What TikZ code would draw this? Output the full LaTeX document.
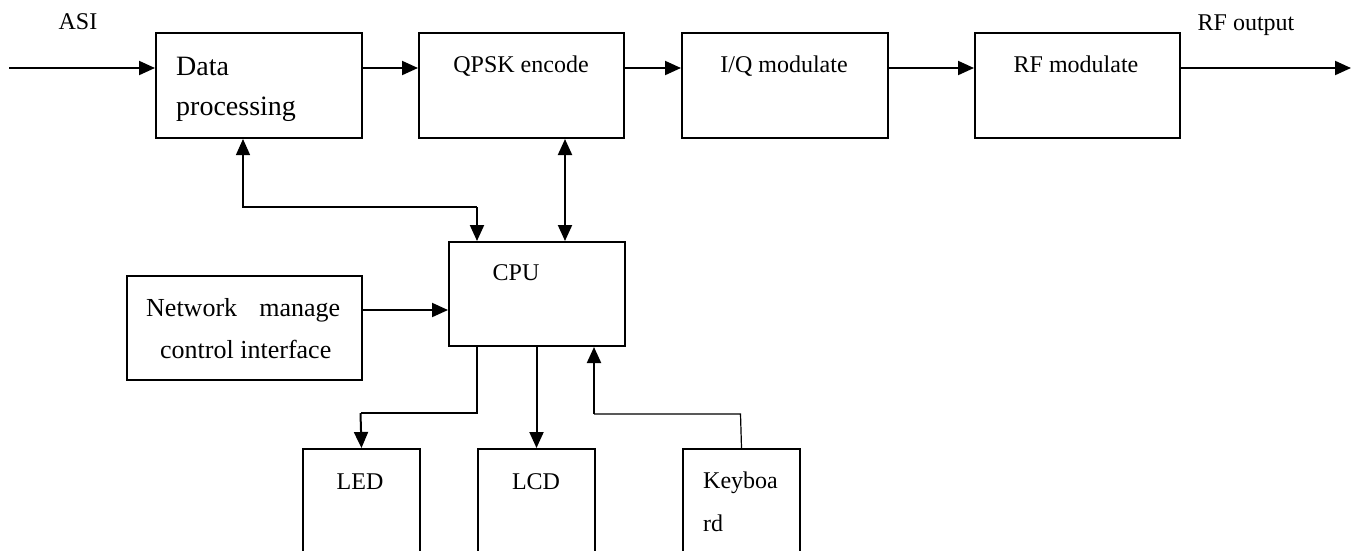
\documentclass[tikz,border=0pt]{standalone}
\usepackage{fontspec}
\setmainfont{Liberation Serif}
\usetikzlibrary{arrows.meta}
\begin{document}
\begin{tikzpicture}[x=1pt,y=-1pt,
  blk/.style={draw, line width=2pt, inner sep=0pt, anchor=north west, minimum height=105pt},
  lowblk/.style={draw, line width=2pt, inner sep=0pt, anchor=north west, minimum width=117pt, minimum height=130pt},
  tx/.style={inner sep=0pt, font=\fontsize{24}{28}\selectfont},
  arr/.style={line width=2pt, -{Triangle[length=16pt,width=14pt]}},
  darr/.style={line width=2pt, {Triangle[length=16pt,width=14pt]}-{Triangle[length=16pt,width=14pt]}},
  thinline/.style={line width=1.2pt},
  thinarr/.style={line width=1.2pt, -{Triangle[length=16pt,width=14pt]}}]
\clip (0,0) rectangle (1351,550);
\fill[white] (0,0) rectangle (1351,550);
% boxes
\node[blk, minimum width=206pt] (dp) at (155,32) {};
\node[blk, minimum width=205pt] (qpsk) at (418,32) {};
\node[blk, minimum width=206pt] (iq) at (681,32) {};
\node[blk, minimum width=205pt] (rf) at (974,32) {};
\node[blk, minimum width=176pt, minimum height=104pt] (cpu) at (448,241) {};
\node[blk, minimum width=235pt, minimum height=104pt] (net) at (126,275) {};
\node[lowblk] (led) at (302,448) {};
\node[lowblk] (lcd) at (477,448) {};
\node[lowblk] (kb) at (682,448) {};
% texts
\node[tx] (asi) at (78,22) {ASI};
\node[tx] (rfout) at (1246,25) {RF output};
\node[tx, anchor=base west, font=\fontsize{28}{32}\selectfont] (dpt1) at (176,75) {Data};
\node[tx, anchor=base west, font=\fontsize{28}{32}\selectfont] (dpt2) at (176,115) {processing};
\node[tx, anchor=base] (qpskt) at (521,72) {QPSK encode};
\node[tx, anchor=base] (iqt) at (784,72) {I/Q modulate};
\node[tx, anchor=base] (rft) at (1076,72) {RF modulate};
\node[tx, anchor=base] (cput) at (516,280) {CPU};
\node[tx, anchor=base west, font=\fontsize{26}{30}\selectfont] (nett1) at (146,316) {\hbox to 194pt{Network\hfil manage}};
\node[tx, anchor=base west, font=\fontsize{26}{30}\selectfont] (nett2) at (160,358) {control interface};
\node[tx, anchor=base] (ledt) at (360,489) {LED};
\node[tx, anchor=base] (lcdt) at (536,489) {LCD};
\node[tx, anchor=base west] (kbt1) at (703,488) {Keyboa};
\node[tx, anchor=base west] (kbt2) at (703,531) {rd};
% helper coordinates
\coordinate (in) at (9,68);
\coordinate (row) at (0,68);
\coordinate (out) at (1351,68);
\coordinate (c1) at (565,0);
\coordinate (j1) at (477,207);
\coordinate (j2) at (243,207);
\coordinate (r2) at (0,310);
\coordinate (k1) at (477,413);
\coordinate (k2) at (360.5,413);
\coordinate (m1) at (740.5,414);
\coordinate (m2) at (594,414);
% main chain
\draw[arr] (in) -- (in -| dp.west);
\draw[arr] (dp.east |- row) -- (qpsk.west |- row);
\draw[arr] (qpsk.east |- row) -- (iq.west |- row);
\draw[arr] (iq.east |- row) -- (rf.west |- row);
\draw[arr] (rf.east |- row) -- (out);
% CPU links
\draw[darr] (qpsk.south -| c1) -- (cpu.north -| c1);
\draw[thinarr] (j1) -- (j2) -- (dp.south -| j2);
\draw[arr] (j1) -- (cpu.north -| j1);
\draw[arr] (net.east |- r2) -- (cpu.west |- r2);
\draw[thinline] (cpu.south -| k1) -- (k1) -- (k2);
\draw[arr] (k2) -- (led.north);
\draw[arr] (cpu.south -| lcd.north) -- (lcd.north);
\draw[thinline] (kb.north) -- (m1) -- (m2);
\draw[arr] (m2) -- (cpu.south -| m2);
\end{tikzpicture}
\end{document}
